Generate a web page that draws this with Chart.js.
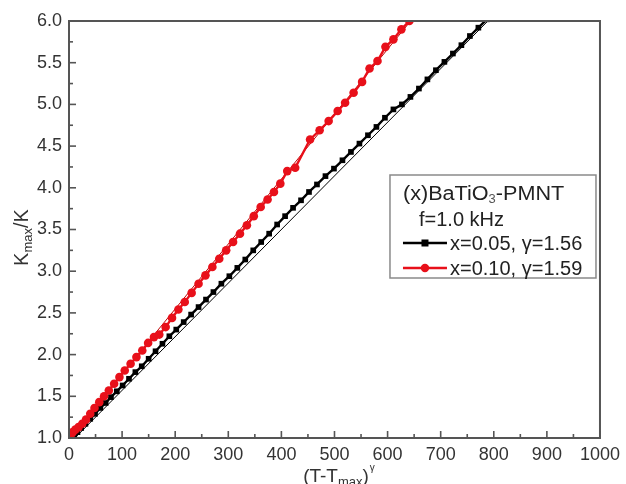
<!DOCTYPE html>
<html><head><meta charset="utf-8">
<script src="https://cdn.jsdelivr.net/npm/chart.js@4.4.1/dist/chart.umd.min.js"></script>
<style>html,body{margin:0;padding:0;background:#fff;}#wrap{width:626px;height:484px;position:relative;}</style>
</head><body><div id="wrap"><canvas id="c" width="626" height="484"></canvas></div>
<script>
// ---- data ----
const xTickValues = [0,100,200,300,400,500,600,700,800,900,1000];
const yTickValues = [1.0,1.5,2.0,2.5,3.0,3.5,4.0,4.5,5.0,5.5,6.0];

const blackX = [5,10,16,23,31,40,49,59,69,79,90,101,113,125,137,150,163,176,189,202,216,230,244,258,272,287,302,317,332,347,362,377,392,407,422,437,452,467,483,499,515,531,547,563,579,595,611,627,643,659,675,691,707,723,739,755,771,787];
const blackY = [1.00,1.03,1.07,1.12,1.17,1.23,1.29,1.36,1.42,1.49,1.56,1.63,1.71,1.79,1.86,1.95,2.04,2.13,2.22,2.30,2.39,2.48,2.57,2.66,2.75,2.85,2.94,3.04,3.14,3.25,3.35,3.45,3.56,3.66,3.76,3.85,3.95,4.04,4.14,4.23,4.33,4.43,4.53,4.63,4.73,4.84,4.94,5.00,5.09,5.19,5.30,5.41,5.51,5.61,5.71,5.82,5.92,6.02];

const redX = [0,3,7,12,18,25,32,40,48,57,66,75,85,95,105,116,127,138,149,160,170,182,194,206,218,231,244,257,270,283,296,309,322,335,348,361,374,386,398,411,426,454,472,489,506,520,536,552,566,581,596,611,626,641];
const redY = [1.00,1.03,1.07,1.10,1.13,1.17,1.22,1.29,1.36,1.43,1.50,1.57,1.65,1.73,1.81,1.89,1.97,2.05,2.14,2.21,2.24,2.33,2.44,2.54,2.63,2.74,2.85,2.95,3.05,3.15,3.25,3.35,3.45,3.55,3.66,3.77,3.86,3.95,4.05,4.20,4.24,4.58,4.69,4.80,4.92,5.02,5.14,5.27,5.43,5.52,5.69,5.78,5.90,6.00];

const blackFitX = [8, 792];
const blackFitY = [0.98, 6.02];
const redFitX = [0, 646];
const redFitY = [0.99, 6.02];

const legendTitleParts = ['(x)BaTiO', '3', '-PMNT'];
const legendSubtitle = 'f=1.0 kHz';
const seriesLabels = ['x=0.05, \u03B3=1.56', 'x=0.10, \u03B3=1.59'];
const yTitleParts = ['K', 'max', '/K'];
const xTitleParts = ['(T-T', 'max', ')', '\u03B3'];

const FONT = '"Liberation Sans", Arial, Helvetica, sans-serif';
const BLACK = '#000000';
const RED = '#e8101a';

function pts(xs, ys){ return xs.map((x,i)=>({x:x, y:ys[i]})); }

const decor = {
  id:'decor',
  afterDatasetsDraw(chart){
    const ctx = chart.ctx, ca = chart.chartArea;
    const xs = chart.scales.x, ys = chart.scales.y;
    ctx.save();
    ctx.strokeStyle = '#555';
    ctx.lineWidth = 1.6;
    for(let v=0; v<=1000; v+=50){
      const px = xs.getPixelForValue(v);
      const len = (v % 100 === 0) ? 7 : 4;
      ctx.beginPath(); ctx.moveTo(px, ca.bottom); ctx.lineTo(px, ca.bottom-len); ctx.stroke();
    }
    for(let k=0; k<=20; k++){
      const v = 1 + k*0.25;
      const py = ys.getPixelForValue(v);
      const len = (k % 2 === 0) ? 7 : 4;
      ctx.beginPath(); ctx.moveTo(ca.left, py); ctx.lineTo(ca.left+len, py); ctx.stroke();
    }
    ctx.lineWidth = 2;
    ctx.strokeRect(ca.left, ca.top, ca.right-ca.left, ca.bottom-ca.top);
    ctx.restore();
  },
  afterDraw(chart){
    const ctx = chart.ctx, ca = chart.chartArea;
    ctx.save();
    ctx.fillStyle = '#333';
    ctx.textBaseline = 'alphabetic';
    // y title
    ctx.save();
    const yMid = (ca.top+ca.bottom)/2 + 8;
    ctx.font = '20px ' + FONT;
    const wK = ctx.measureText(yTitleParts[0]).width;
    const wS = ctx.measureText(yTitleParts[2]).width;
    ctx.font = '13px ' + FONT;
    const wM = ctx.measureText(yTitleParts[1]).width;
    const total = wK + wM + wS;
    ctx.translate(28, yMid + total/2);
    ctx.rotate(-Math.PI/2);
    ctx.font = '20px ' + FONT;
    ctx.fillText(yTitleParts[0], 0, 0);
    ctx.font = '13px ' + FONT;
    ctx.fillText(yTitleParts[1], wK, 4);
    ctx.font = '20px ' + FONT;
    ctx.fillText(yTitleParts[2], wK+wM, 0);
    ctx.restore();
    // x title
    ctx.font = '19px ' + FONT;
    const a = ctx.measureText(xTitleParts[0]).width;
    const c = ctx.measureText(xTitleParts[2]).width;
    ctx.font = '13px ' + FONT;
    const b = ctx.measureText(xTitleParts[1]).width;
    ctx.font = '10px ' + FONT;
    const d = ctx.measureText(xTitleParts[3]).width;
    const tw = a+b+c+d;
    let x0 = (ca.left+ca.right)/2 - tw/2 + 4;
    const base = 482;
    ctx.font = '19px ' + FONT; ctx.fillText(xTitleParts[0], x0, base);
    ctx.font = '13px ' + FONT; ctx.fillText(xTitleParts[1], x0+a, base+4);
    ctx.font = '19px ' + FONT; ctx.fillText(xTitleParts[2], x0+a+b, base);
    ctx.font = '10px ' + FONT; ctx.fillText(xTitleParts[3], x0+a+b+c+1, base-11);
    // legend box
    const L = ca.right - 210, T = ca.top + 154, W = 206, H = 103;
    ctx.fillStyle = '#fff';
    ctx.fillRect(L, T, W, H);
    ctx.strokeStyle = '#8a8a8a'; ctx.lineWidth = 1.5;
    ctx.strokeRect(L, T, W, H);
    ctx.fillStyle = '#222';
    ctx.save();
    ctx.translate(L + 13, 0);
    ctx.scale(1.08, 1);
    ctx.font = '20px ' + FONT;
    let tx = 0;
    ctx.fillText(legendTitleParts[0], tx, T+25);
    tx += ctx.measureText(legendTitleParts[0]).width;
    ctx.font = '12px ' + FONT;
    ctx.fillStyle = '#555';
    ctx.fillText(legendTitleParts[1], tx, T+28);
    tx += ctx.measureText(legendTitleParts[1]).width;
    ctx.fillStyle = '#222';
    ctx.font = '20px ' + FONT;
    ctx.fillText(legendTitleParts[2], tx, T+25);
    ctx.restore();
    ctx.font = '20px ' + FONT;
    ctx.fillText(legendSubtitle, L+29, T+51);
    const rows = [{c:BLACK, s:'rect', y:T+68}, {c:RED, s:'circle', y:T+93}];
    rows.forEach((r,i)=>{
      ctx.strokeStyle = r.c; ctx.fillStyle = r.c; ctx.lineWidth = 2.4;
      ctx.beginPath(); ctx.moveTo(L+13, r.y); ctx.lineTo(L+57, r.y); ctx.stroke();
      if(r.s==='rect'){ ctx.fillRect(L+35-3.5, r.y-3.5, 7, 7); }
      else { ctx.beginPath(); ctx.arc(L+35, r.y, 4.2, 0, Math.PI*2); ctx.fill(); }
      ctx.fillStyle = '#222';
      ctx.font = '20px ' + FONT;
      ctx.fillText(seriesLabels[i], L+60, r.y+7);
    });
    ctx.restore();
  }
};

new Chart(document.getElementById('c'), {
  type:'scatter',
  data:{
    datasets:[
      {label:'fit005', data:pts(blackFitX, blackFitY), showLine:true, borderColor:BLACK, borderWidth:1, pointRadius:0, order:3},
      {label:'fit010', data:pts(redFitX, redFitY), showLine:true, borderColor:'#c00000', borderWidth:1, pointRadius:0, order:3},
      {label:seriesLabels[0], data:pts(blackX, blackY), showLine:true, borderColor:BLACK, backgroundColor:BLACK, borderWidth:2.4, pointStyle:'rect', pointRadius:4, pointBorderWidth:0, order:2},
      {label:seriesLabels[1], data:pts(redX, redY), showLine:true, borderColor:RED, backgroundColor:RED, borderWidth:2.4, pointStyle:'circle', pointRadius:4.3, pointBorderWidth:0, order:1}
    ]
  },
  options:{
    responsive:false, animation:false, devicePixelRatio:1,
    layout:{padding:{top:21, right:19, left:0, bottom:0}},
    plugins:{legend:{display:false}, tooltip:{enabled:false}},
    scales:{
      x:{type:'linear', min:0, max:1000,
         afterBuildTicks(s){ s.ticks = xTickValues.map(v=>({value:v})); },
         afterFit(s){ s.height = 46; },
         ticks:{color:'#333', font:{size:18, family:FONT}, padding:6, maxRotation:0, autoSkip:false, callback:v=>String(v)},
         grid:{display:false, drawTicks:false}, border:{display:false}},
      y:{type:'linear', min:1, max:6,
         afterBuildTicks(s){ s.ticks = yTickValues.map(v=>({value:v})); },
         afterFit(s){ s.width = 69; },
         ticks:{color:'#333', font:{size:18, family:FONT}, padding:7, autoSkip:false, callback:v=>Number(v).toFixed(1)},
         grid:{display:false, drawTicks:false}, border:{display:false}}
    }
  },
  plugins:[decor]
});
</script>
</body></html>
